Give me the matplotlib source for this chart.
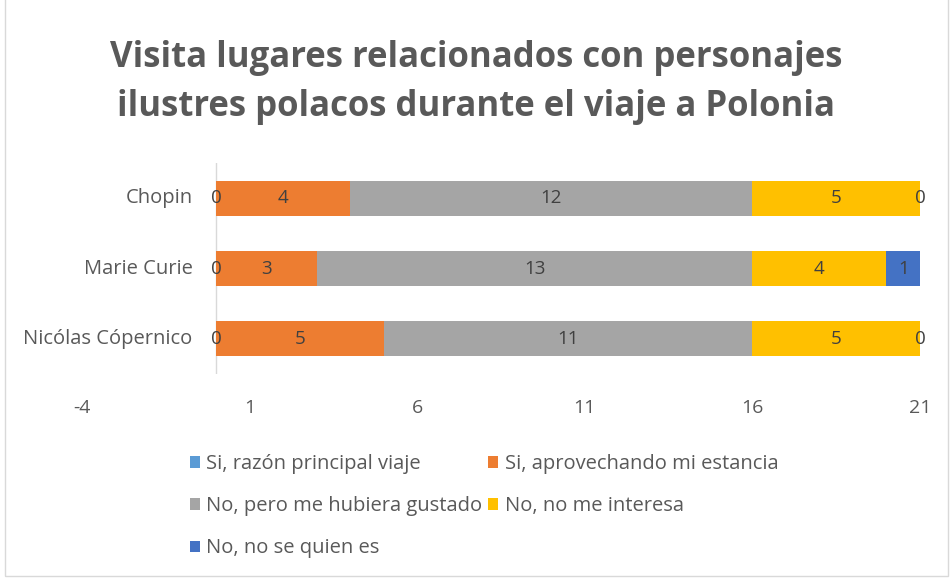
import matplotlib.pyplot as plt
from matplotlib.patches import Rectangle, Patch

plt.rcParams['font.family'] = ['Open Sans', 'DejaVu Sans']

people = ['Nicólas Cópernico', 'Marie Curie', 'Chopin']
series_names = ['Si, razón principal viaje', 'Si, aprovechando mi estancia',
                'No, pero me hubiera gustado', 'No, no me interesa',
                'No, no se quien es']
razon = [0, 0, 0]
aprovechando = [5, 3, 4]
hubiera = [11, 13, 12]
no_interesa = [5, 4, 5]
no_se = [0, 1, 0]
colors = ['#5B9BD5', '#ED7D31', '#A5A5A5', '#FFC000', '#4472C4']
xticks = [-4, 1, 6, 11, 16, 21]

text_color = '#595959'

fig = plt.figure(figsize=(9.53, 5.78), dpi=100)
ax = fig.add_axes([82 / 953, 1 - 374 / 578, 838 / 953, 211 / 578])

all_series = [razon, aprovechando, hubiera, no_interesa, no_se]
left = [0] * len(people)
handles = []
for name, vals, col in zip(series_names, all_series, colors):
    ax.barh(people, vals, left=left, height=0.5, color=col, label=name)
    for i, v in enumerate(vals):
        ax.text(left[i] + v / 2, i, str(v), ha='center', va='center',
                fontsize=13.5, color='#404040')
    left = [l + v for l, v in zip(left, vals)]
    handles.append(Patch(facecolor=col, label=name))

# category names sit just left of the zero line
for i, p in enumerate(people):
    ax.text(-0.7, i, p, ha='right', va='center', fontsize=14.5, color=text_color)

ax.set_xlim(-4, 21)
ax.set_ylim(-0.5, 2.5)
ax.set_xticks(xticks)
ax.set_xticklabels([str(t) for t in xticks])
ax.set_yticks([])
ax.axvline(0, color='#d9d9d9', lw=1, zorder=0)
for s in ax.spines.values():
    s.set_visible(False)
ax.tick_params(length=0, labelsize=14, colors=text_color, pad=18)

fig.suptitle('Visita lugares relacionados con personajes\nilustres polacos durante el viaje a Polonia',
             x=0.5, y=0.93, fontsize=25, fontweight='bold', color=text_color,
             linespacing=1.45)

order = [0, 2, 4, 1, 3]
fig.legend([handles[i] for i in order], [series_names[i] for i in order],
           ncol=2, loc='upper left', bbox_to_anchor=(172 / 953, 1 - 436 / 578),
           frameon=False, fontsize=14.5, labelcolor=text_color,
           handlelength=0.5, handleheight=0.5, handletextpad=0.3,
           columnspacing=0.3, labelspacing=1.1)

fig.patches.append(Rectangle((5 / 953, 2 / 578), 1 - 10 / 953, 1, transform=fig.transFigure,
                             fill=False, edgecolor='#d9d9d9', lw=1))

fig.savefig('out.png', dpi=100)
